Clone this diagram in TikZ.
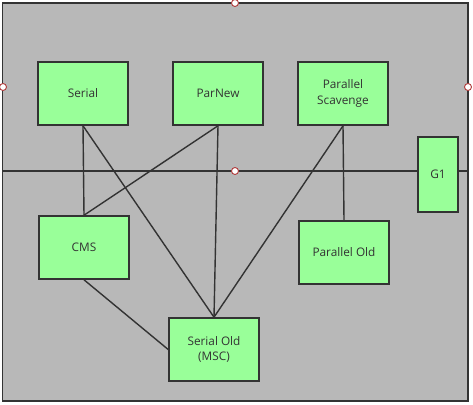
\documentclass[tikz,border=0pt]{standalone}
\usepackage{fontspec}
\setmainfont{Open Sans}
\usetikzlibrary{positioning}
\definecolor{panelgray}{HTML}{B8B8B8}
\definecolor{gcgreen}{HTML}{99FF99}
\definecolor{edgedark}{HTML}{333333}
\definecolor{handlered}{HTML}{B03A3A}

\begin{document}
\begin{tikzpicture}[x=1pt,y=-1pt,
    gc/.style={draw=edgedark,line width=1.6pt,fill=gcgreen,minimum width=90pt,minimum height=63pt,
               inner sep=0pt,align=center,font=\fontsize{11.8}{15.5}\selectfont,text=edgedark},
    handle/.style={circle,draw=handlered,fill=white,line width=0.9pt,minimum size=7pt,inner sep=0pt},
    link/.style={draw=edgedark,line width=1.4pt}]
            \useasboundingbox (0,0) rectangle (473,404);
            \draw[fill=panelgray,draw=edgedark,line width=1.6pt] (2.5,3) rectangle (468,401);
            \coordinate (split_l) at (3,171);
            \coordinate (split_r) at (468,171);
            \draw[link] (split_l) -- (split_r);
            \node[gc] (serial) at (83,93.5) {Serial};
            \node[gc] (parnew) at (218,93.5) {ParNew};
            \node[gc] (ps) at (343,93.5) {Parallel\\Scavenge};
            \node[gc,minimum width=40pt,minimum height=75pt] (g1) at (438,174.5) {G1};
            \node[gc] (cms) at (84,247.5) {CMS};
            \node[gc] (par_old) at (344,252.5) {Parallel Old};
            \node[gc] (serial_old) at (214,349.5) {Serial Old\\(MSC)};
            \path[link]
                (serial.south)
                    edge (cms.north)
                    edge (serial_old.north)
                (parnew.south)
                    edge (cms.north)
                    edge (serial_old.north)
                (ps.south)
                    edge (serial_old.north)
                    edge (par_old.north)
                (cms.south)
                    edge (serial_old.west);
            \node[handle] (h_top) at (235,3) {};
            \node[handle] (h_left) at (3,87) {};
            \node[handle] (h_right) at (468,87) {};
            \node[handle] (h_mid) at (235,171) {};
        \end{tikzpicture}
\end{document}
